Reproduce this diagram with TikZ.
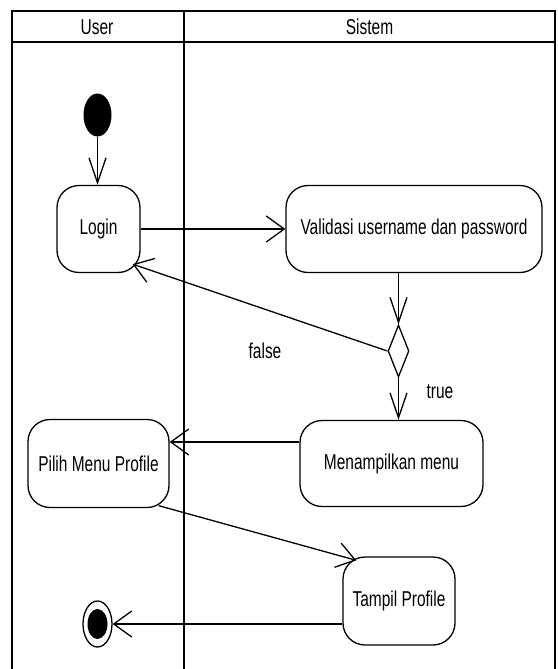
\documentclass[tikz,border=0pt]{standalone}
\usepackage{fontspec}
\newfontfamily\diagfont{Liberation Sans}[FakeStretch=0.72]
\usetikzlibrary{arrows.meta,shapes.geometric,calc}

\begin{document}
\begin{tikzpicture}[x=1pt,y=-1pt,
  lane/.style={line width=2.6pt},
  txt/.style={font=\diagfont\fontsize{21.5}{24}\selectfont, text=black},
  act/.style={draw, line width=1.3pt, rounded corners=22pt, inner sep=0pt, txt},
  startdot/.style={ellipse, fill=black, minimum width=28pt, minimum height=43pt, inner sep=0pt},
  endring/.style={ellipse, draw, line width=1.3pt, minimum width=29pt, minimum height=46pt, inner sep=0pt},
  endcore/.style={ellipse, fill=black, minimum width=20pt, minimum height=30pt, inner sep=0pt},
  decision/.style={diamond, draw, line width=1.3pt, minimum width=21pt, minimum height=52pt, inner sep=0pt},
  flow/.style={line width=1.3pt},
  vhead/.style={-{Straight Barb[length=25pt,width=17pt]}},
  hhead/.style={-{Straight Barb[length=18pt,width=26pt]}},
  dhead/.style={-{Straight Barb[length=18pt,width=25pt]}}]

\useasboundingbox (0,0) rectangle (557,669);

% swimlane frame
\draw[lane] (12,669) -- (12,11) -- (555,11) -- (555,669);
\draw[lane] (12,42) -- (555,42);
\draw[lane] (184,11) -- (184,669);
\node[txt] (userhd) at (97,27) {User};
\node[txt] (sistemhd) at (369.5,27) {Sistem};

% activities
\node[startdot] (start) at (97.5,115) {};
\node[act, minimum width=83pt, minimum height=87pt] (login) at (98.5,229) {Login};
\node[act, minimum width=256pt, minimum height=87pt] (valid) at (414,229) {Validasi username dan password};
\node[decision] (dec) at (398.5,351) {};
\node[act, minimum width=183pt, minimum height=86pt] (menu) at (391.5,463.5) {Menampilkan menu};
\node[act, minimum width=141pt, minimum height=88pt] (pilih) at (98.5,463.5) {Pilih Menu Profile};
\node[act, minimum width=112pt, minimum height=88pt] (tampil) at (399,601) {Tampil Profile};
\node[endring] (end) at (97.5,624) {};
\node[endcore] (endc) at (end) {};

% guards
\node[txt] (falselbl) at (265,351) {false};
\node[txt] (truelbl) at (440,392) {true};

% control flow
\draw[flow, vhead] (start.south) -- (start.south |- login.north);
\draw[flow, hhead] (login) -- (valid);
\draw[flow, vhead] (dec.north |- valid.south) -- (dec.north);
\draw[flow, dhead] (dec.west) -- ($(login.south east)+(-8,-9)$);
\draw[flow, vhead] (dec.south) -- (dec.south |- menu.north);
\draw[flow, hhead] ($(menu.west)+(0,-21.5)$) -- ($(pilih.east)+(0,-21.5)$);
\draw[flow, dhead] ($(pilih.south east)+(-11,-2.5)$) -- ($(tampil.north west)+(14,4)$);
\draw[flow, hhead] (tampil.west |- end.east) -- (end.east);
\end{tikzpicture}
\end{document}
